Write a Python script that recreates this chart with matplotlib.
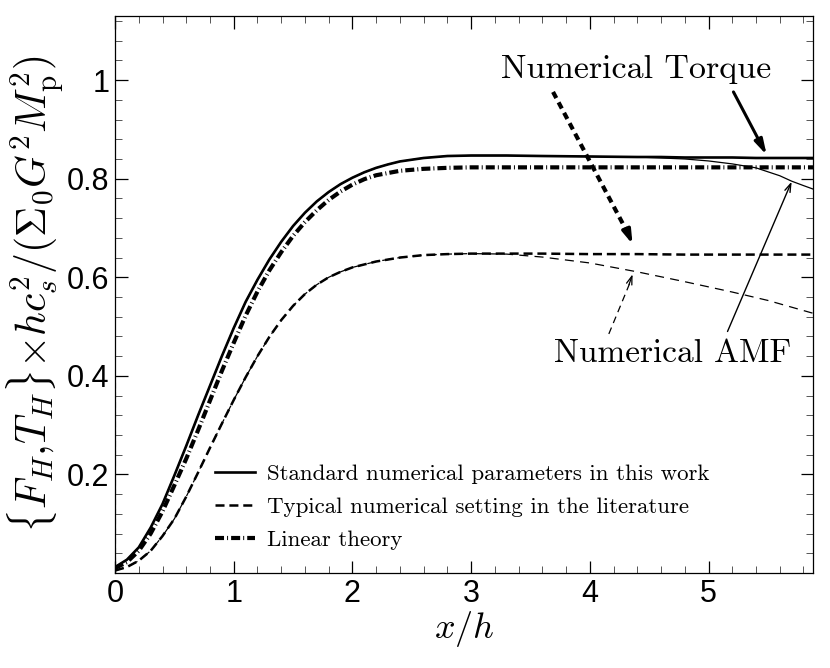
import matplotlib
matplotlib.use("Agg")
import matplotlib.pyplot as plt
from matplotlib.ticker import MultipleLocator, FixedLocator

plt.rcParams['mathtext.fontset'] = 'cm'
plt.rcParams['lines.scale_dashes'] = False

# valores
x_std = [0.0, 0.1, 0.2, 0.3, 0.4, 0.5, 0.6, 0.7, 0.8, 0.9, 1.0, 1.1, 1.2, 1.3, 1.4,
         1.5, 1.6, 1.7, 1.8, 1.9, 2.0, 2.1, 2.2, 2.3, 2.4, 2.6, 2.8, 3.0, 3.3, 3.6,
         4.0, 4.4, 4.6, 4.8, 5.0, 5.2, 5.4, 5.6, 5.7, 5.8, 5.88]
torque_std = [0.012, 0.027, 0.052, 0.092, 0.14, 0.198, 0.258, 0.32, 0.38, 0.44, 0.497,
              0.55, 0.595, 0.636, 0.672, 0.704, 0.731, 0.754, 0.773, 0.789, 0.802,
              0.813, 0.822, 0.829, 0.835, 0.842, 0.846, 0.847, 0.847, 0.846, 0.845,
              0.844, 0.844, 0.843, 0.843, 0.843, 0.842, 0.842, 0.842, 0.842, 0.842]
amf_std = [0.012, 0.027, 0.052, 0.092, 0.14, 0.198, 0.258, 0.32, 0.38, 0.44, 0.497,
           0.55, 0.595, 0.636, 0.672, 0.704, 0.731, 0.754, 0.773, 0.789, 0.802,
           0.813, 0.822, 0.829, 0.835, 0.842, 0.846, 0.847, 0.847, 0.846, 0.845,
           0.844, 0.842, 0.840, 0.836, 0.830, 0.822, 0.806, 0.795, 0.786, 0.779]

x_typ = [0.0, 0.1, 0.2, 0.3, 0.4, 0.5, 0.6, 0.7, 0.8, 0.9, 1.0, 1.1, 1.2, 1.3, 1.4,
         1.5, 1.6, 1.7, 1.8, 1.9, 2.0, 2.2, 2.4, 2.6, 2.8, 3.0, 3.3, 3.6, 4.0, 4.4,
         4.8, 5.2, 5.5, 5.88]
torque_typ = [0.005, 0.012, 0.025, 0.045, 0.075, 0.11, 0.155, 0.204, 0.254, 0.303,
              0.351, 0.397, 0.44, 0.479, 0.513, 0.542, 0.566, 0.585, 0.6, 0.611,
              0.62, 0.632, 0.64, 0.645, 0.647, 0.648, 0.648, 0.648, 0.647, 0.647,
              0.646, 0.646, 0.646, 0.646]
amf_typ = [0.005, 0.012, 0.025, 0.045, 0.075, 0.11, 0.155, 0.204, 0.254, 0.303,
           0.351, 0.397, 0.44, 0.479, 0.513, 0.542, 0.566, 0.585, 0.6, 0.611,
           0.62, 0.632, 0.64, 0.645, 0.647, 0.648, 0.647, 0.641, 0.629, 0.611,
           0.591, 0.57, 0.553, 0.527]
# salto vertical en x=0 de la curva AMF tipica
x_typ_borde = [0.0, 0.0]
amf_typ_borde = [0.0, 0.39]

x_lin = [0.0, 0.1, 0.2, 0.3, 0.4, 0.5, 0.6, 0.7, 0.8, 0.9, 1.0, 1.1, 1.2, 1.3, 1.4,
         1.5, 1.6, 1.7, 1.8, 1.9, 2.0, 2.1, 2.2, 2.4, 2.6, 2.8, 3.0, 3.5, 4.0, 4.5,
         5.0, 5.5, 5.88]
lineal = [0.01, 0.022, 0.045, 0.08, 0.125, 0.178, 0.232, 0.29, 0.35, 0.41, 0.467,
          0.522, 0.571, 0.614, 0.651, 0.684, 0.712, 0.736, 0.757, 0.774, 0.788,
          0.799, 0.807, 0.816, 0.82, 0.822, 0.823, 0.823, 0.823, 0.823, 0.823,
          0.823, 0.823]

etiquetas = ["Standard numerical parameters in this work",
             "Typical numerical setting in the literature",
             "Linear theory"]

fig = plt.figure(figsize=(8.3, 6.68), dpi=100)
ax = fig.add_axes([0.1386, 0.1422, 0.8409, 0.8338])

ax.plot(x_std, torque_std, color='black', lw=1.9, label=etiquetas[0])
ax.plot(x_std, amf_std, color='black', lw=0.9)
ax.plot(x_typ, torque_typ, color='black', lw=1.8, dashes=(6.5, 3.5), label=etiquetas[1])
ax.plot(x_typ, amf_typ, color='black', lw=0.9, dashes=(6.5, 4.5))
ax.plot(x_typ_borde, amf_typ_borde, color='black', lw=1.5, dashes=(4, 3))
ax.plot(x_lin, lineal, color='black', lw=3.0, dashes=(6.5, 2.2, 0.7, 2.2),
        dash_capstyle='butt', label=etiquetas[2])

# flechas
ax.annotate('', xy=(5.49, 0.848), xytext=(5.21, 0.976),
            arrowprops=dict(arrowstyle='-|>,head_length=0.9,head_width=0.25',
                            color='black', lw=2.2, shrinkA=0, shrinkB=0))
ax.plot([3.69, 4.33], [0.976, 0.685], color='black', lw=3.0, dashes=(5, 3.5))
ax.annotate('', xy=(4.36, 0.667), xytext=(4.32, 0.69),
            arrowprops=dict(arrowstyle='-|>,head_length=0.8,head_width=0.25',
                            color='black', lw=2.5, shrinkA=0, shrinkB=0))
ax.plot([4.16, 4.34], [0.485, 0.59], color='black', lw=0.9, dashes=(5, 3.5))
ax.annotate('', xy=(4.36, 0.606), xytext=(4.33, 0.585),
            arrowprops=dict(arrowstyle='->,head_length=0.6,head_width=0.2',
                            color='black', lw=0.9, shrinkA=0, shrinkB=0))
ax.annotate('', xy=(5.70, 0.794), xytext=(5.16, 0.49),
            arrowprops=dict(arrowstyle='->,head_length=0.6,head_width=0.2',
                            color='black', lw=1.0, shrinkA=0, shrinkB=0))

ax.text(4.39, 1.022, "Numerical Torque", fontfamily='cmr10', fontsize=24.5,
        ha='center', va='center')
ax.text(4.70, 0.446, "Numerical AMF", fontfamily='cmr10', fontsize=24,
        ha='center', va='center')

ax.set_xlim(0, 5.88)
ax.set_ylim(0, 1.13)
ax.xaxis.set_major_locator(FixedLocator([0, 1, 2, 3, 4, 5]))
ax.xaxis.set_minor_locator(MultipleLocator(0.2))
ax.yaxis.set_major_locator(FixedLocator([0.2, 0.4, 0.6, 0.8, 1.0]))
ax.yaxis.set_minor_locator(MultipleLocator(0.04))
ax.set_xticklabels(['0', '1', '2', '3', '4', '5'])
ax.set_yticklabels(['0.2', '0.4', '0.6', '0.8', '1'])
ax.tick_params(which='both', direction='in', top=True, right=True)
ax.tick_params(which='major', length=9, width=0.9, pad=4)
ax.tick_params(which='minor', length=5, width=0.7, color='#555555')
for lab in ax.get_xticklabels() + ax.get_yticklabels():
    lab.set_fontfamily('Liberation Sans')
    lab.set_fontsize(22)
for sp in ax.spines.values():
    sp.set_linewidth(0.9)

ax.set_xlabel(r'$x/h$', fontsize=26, labelpad=0)
ax.set_ylabel(r'$\{F_H{,}T_H\}{\times}hc_s^2/(\Sigma_0 G^2 M_{\rm p}^2)$', fontsize=30,
              labelpad=1)

leg = ax.legend(loc='center left', bbox_to_anchor=(0.1433, 0.1185), frameon=False,
                prop={'family': 'cmr10', 'size': 16.5}, handlelength=1.75,
                handletextpad=0.5, labelspacing=0.55, borderpad=0, borderaxespad=0)

plt.savefig('out.png', dpi=100)
plt.close()
